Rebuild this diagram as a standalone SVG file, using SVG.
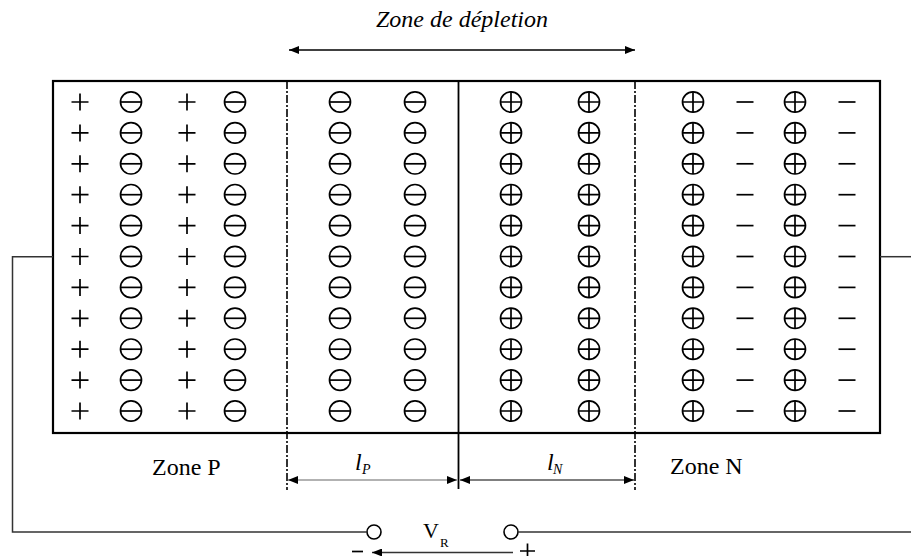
<svg xmlns="http://www.w3.org/2000/svg" xmlns:xlink="http://www.w3.org/1999/xlink" width="911" height="556" viewBox="0 0 911 556">
  <style>
    .sym { fill: none; stroke: #000; stroke-width: 1.7; }
    .box { fill: none; stroke: #000; stroke-width: 2.2; }
    .divider { fill: none; stroke: #000; stroke-width: 1.6; stroke-dasharray: 8 2 2 2; }
    .junction { fill: none; stroke: #000; stroke-width: 1.8; }
    .wire { fill: none; stroke: #333; stroke-width: 1.5; }
    .terminal { fill: #fff; stroke: #000; stroke-width: 1.6; }
    .dim-gray { stroke: #999; stroke-width: 1.6; fill: none; }
    .dim-black { stroke: #000; stroke-width: 1.1; fill: none; }
    .arrow { stroke: #000; stroke-width: 1.5; fill: none; }
    text { font-family: "Liberation Serif", "DejaVu Serif", "Times New Roman", serif; fill: #000; }
    .label { font-size: 24px; }
    .ital { font-style: italic; }
    .sub { font-size: 14px; font-style: normal; }
    .isub { font-size: 14px; font-style: italic; }
  </style>
  <defs>
    <marker id="ah" viewBox="0 0 10 8" refX="10" refY="4" markerWidth="10" markerHeight="8" markerUnits="userSpaceOnUse" orient="auto-start-reverse">
      <path d="M0,0 L10,4 L0,8 Z" fill="#000"/>
    </marker>
    <!-- single charge symbols -->
    <path id="plus" class="sym" d="M-8.5,0 H8.5 M0,-8.5 V8.5"/>
    <path id="minus" class="sym" d="M-8.5,0 H8.5"/>
    <g id="ionNeg" class="sym"><ellipse rx="10.5" ry="10.2"/><path d="M-10.5,0 H10.5"/></g>
    <g id="ionPos" class="sym"><ellipse rx="10.5" ry="10.2"/><path d="M-10.5,0 H10.5 M0,-10.2 V10.2"/></g>
    <!-- eleven-row columns -->
    <g id="colPlus">
      <use xlink:href="#plus" y="102"/><use xlink:href="#plus" y="132.9"/><use xlink:href="#plus" y="163.8"/>
      <use xlink:href="#plus" y="194.7"/><use xlink:href="#plus" y="225.6"/><use xlink:href="#plus" y="256.5"/>
      <use xlink:href="#plus" y="287.4"/><use xlink:href="#plus" y="318.3"/><use xlink:href="#plus" y="349.2"/>
      <use xlink:href="#plus" y="380.1"/><use xlink:href="#plus" y="411"/>
    </g>
    <g id="colMinus">
      <use xlink:href="#minus" y="102"/><use xlink:href="#minus" y="132.9"/><use xlink:href="#minus" y="163.8"/>
      <use xlink:href="#minus" y="194.7"/><use xlink:href="#minus" y="225.6"/><use xlink:href="#minus" y="256.5"/>
      <use xlink:href="#minus" y="287.4"/><use xlink:href="#minus" y="318.3"/><use xlink:href="#minus" y="349.2"/>
      <use xlink:href="#minus" y="380.1"/><use xlink:href="#minus" y="411"/>
    </g>
    <g id="colNeg">
      <use xlink:href="#ionNeg" y="102"/><use xlink:href="#ionNeg" y="132.9"/><use xlink:href="#ionNeg" y="163.8"/>
      <use xlink:href="#ionNeg" y="194.7"/><use xlink:href="#ionNeg" y="225.6"/><use xlink:href="#ionNeg" y="256.5"/>
      <use xlink:href="#ionNeg" y="287.4"/><use xlink:href="#ionNeg" y="318.3"/><use xlink:href="#ionNeg" y="349.2"/>
      <use xlink:href="#ionNeg" y="380.1"/><use xlink:href="#ionNeg" y="411"/>
    </g>
    <g id="colPos">
      <use xlink:href="#ionPos" y="102"/><use xlink:href="#ionPos" y="132.9"/><use xlink:href="#ionPos" y="163.8"/>
      <use xlink:href="#ionPos" y="194.7"/><use xlink:href="#ionPos" y="225.6"/><use xlink:href="#ionPos" y="256.5"/>
      <use xlink:href="#ionPos" y="287.4"/><use xlink:href="#ionPos" y="318.3"/><use xlink:href="#ionPos" y="349.2"/>
      <use xlink:href="#ionPos" y="380.1"/><use xlink:href="#ionPos" y="411"/>
    </g>
  </defs>

  <rect width="911" height="556" fill="#fff"/>

  <!-- semiconductor bar -->
  <g id="bar">
    <rect class="box" x="53" y="81" width="827" height="352"/>
  </g>

  <!-- P region: holes and acceptor ions -->
  <g id="zoneP">
    <use xlink:href="#colPlus" x="80"/>
    <use xlink:href="#colNeg" x="131"/>
    <use xlink:href="#colPlus" x="187"/>
    <use xlink:href="#colNeg" x="235"/>
    <text class="label" x="152" y="475" font-family="Liberation Serif, serif">Zone P</text>
  </g>

  <!-- depleted P side: bare acceptor ions -->
  <g id="depletionP">
    <use xlink:href="#colNeg" x="340"/>
    <use xlink:href="#colNeg" x="415"/>
    <text class="label ital" x="355" y="470" font-family="Liberation Serif, serif">l</text>
    <text class="isub" x="362" y="474" font-family="Liberation Serif, serif">P</text>
  </g>

  <!-- depleted N side: bare donor ions -->
  <g id="depletionN">
    <use xlink:href="#colPos" x="511"/>
    <use xlink:href="#colPos" x="589"/>
    <text class="label ital" x="547" y="470" font-family="Liberation Serif, serif">l</text>
    <text class="isub" x="553" y="474" font-family="Liberation Serif, serif">N</text>
  </g>

  <!-- N region: donor ions and electrons -->
  <g id="zoneN">
    <use xlink:href="#colPos" x="693"/>
    <use xlink:href="#colMinus" x="745"/>
    <use xlink:href="#colPos" x="795"/>
    <use xlink:href="#colMinus" x="847"/>
    <text class="label" x="670" y="474" font-family="Liberation Serif, serif">Zone N</text>
  </g>

  <!-- depletion width label -->
  <g id="depletionLabel">
    <text class="label ital" x="462" y="27" text-anchor="middle" font-family="Liberation Serif, serif">Zone de dépletion</text>
  </g>

  <!-- bias source terminals -->
  <g id="source">
    <circle class="terminal" cx="374" cy="532" r="7"/>
    <circle class="terminal" cx="511" cy="532" r="7"/>
    <text x="423" y="538" font-size="22" font-family="Liberation Serif, serif">V</text>
    <text x="440" y="547" font-size="13" font-family="Liberation Serif, serif">R</text>
    <path class="sym" d="M352,551.5 H363"/>
    <path class="sym" d="M520,551 H535 M527.5,543.5 V556"/>
  </g>

  <!-- boundaries, wires and dimension arrows -->
  <g id="connectors">
    <line class="divider" x1="287" y1="81" x2="287" y2="490"/>
    <line class="divider" x1="635" y1="81" x2="635" y2="490"/>
    <line class="junction" x1="458.5" y1="81" x2="458.5" y2="489"/>

    <line class="arrow" x1="289" y1="50" x2="635" y2="50" marker-start="url(#ah)" marker-end="url(#ah)"/>

    <line class="dim-gray" x1="288" y1="480" x2="457" y2="480" marker-start="url(#ah)" marker-end="url(#ah)"/>
    <line class="dim-black" x1="460" y1="480" x2="634" y2="480" marker-start="url(#ah)" marker-end="url(#ah)"/>

    <path class="wire" d="M53,256.7 H12.5 V532 H367"/>
    <path class="wire" d="M518,532 H911"/>
    <path class="wire" d="M880,256.7 H911"/>

    <line class="wire" x1="513" y1="552.5" x2="372" y2="552.5" marker-end="url(#ah)"/>
  </g>
</svg>
